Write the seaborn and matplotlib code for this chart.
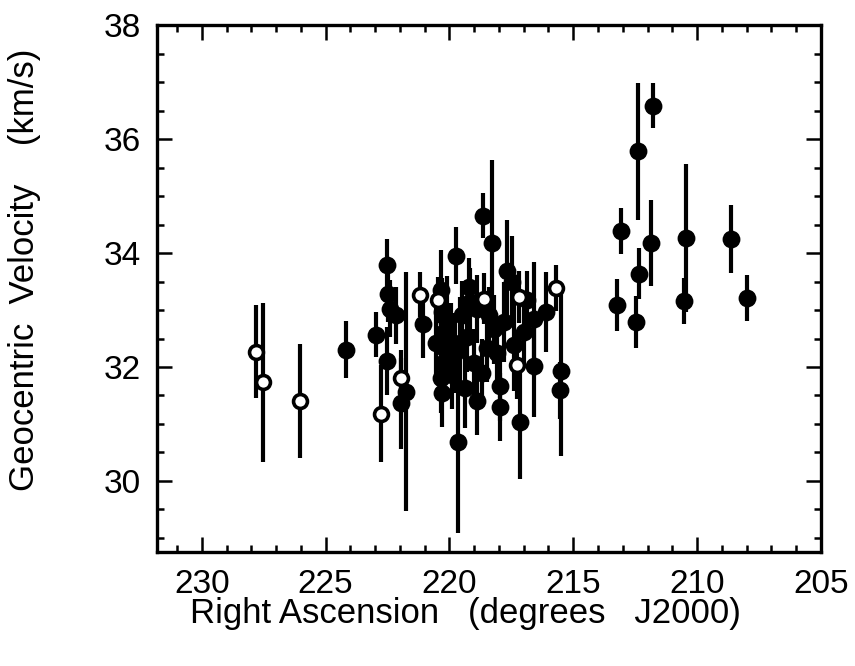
import numpy as np
import pandas as pd
import matplotlib
matplotlib.use("Agg")
import matplotlib.pyplot as plt
import seaborn as sns
from matplotlib.ticker import MultipleLocator

sns.set_theme(style="ticks")
plt.rcParams['font.family'] = ['Liberation Sans', 'DejaVu Sans']
plt.rcParams['text.color'] = 'black'
plt.rcParams['axes.labelcolor'] = 'black'
plt.rcParams['xtick.color'] = 'black'
plt.rcParams['ytick.color'] = 'black'

# filled symbols: right ascension (deg), geocentric velocity (km/s), 1-sigma error
fill_ra = [224.16, 222.96, 222.52, 222.48, 222.40, 222.16, 222.52, 221.76, 221.96, 221.08,
           220.36, 220.32, 220.24, 220.20, 220.28, 220.36, 220.32, 220.08, 219.92, 219.76,
           219.64, 219.72, 219.48, 219.56, 219.28, 219.00, 218.88, 218.88, 218.68, 218.64,
           218.28, 218.40, 218.20, 217.96, 217.96, 217.68, 217.48, 217.40, 217.16, 216.60,
           216.60, 216.08, 215.48, 215.52, 219.20, 216.88,
           219.88, 219.36, 219.16, 218.08, 217.80, 217.00, 218.48, 220.56,
           211.76, 212.40, 213.08, 211.84, 212.36, 213.24, 212.48, 210.44, 210.52, 208.64,
           208.00]
fill_v = [32.30, 32.57, 33.80, 33.29, 33.02, 32.91, 32.11, 31.57, 31.36, 32.75,
          33.36, 32.96, 32.61, 32.34, 32.07, 31.80, 31.54, 32.79, 32.43, 32.25,
          30.68, 33.95, 32.91, 32.43, 32.52, 32.07, 33.02, 31.41, 31.89, 34.66,
          34.18, 32.91, 32.66, 31.66, 31.30, 33.68, 33.50, 32.38, 31.04, 32.84,
          32.02, 32.96, 31.93, 31.59, 33.41, 33.18,
          31.86, 31.63, 33.14, 32.25, 32.79, 32.61, 32.34, 32.43,
          36.59, 35.79, 34.39, 34.18, 33.64, 33.09, 32.79, 34.27, 33.16, 34.25,
          33.21]
fill_err = [0.50, 0.40, 0.45, 0.50, 0.50, 0.50, 0.60, 2.10, 0.80, 0.60,
            0.70, 0.60, 0.60, 0.60, 0.60, 0.60, 0.60, 0.80, 0.70, 0.70,
            1.60, 0.50, 0.60, 0.80, 0.60, 0.60, 0.60, 0.60, 0.60, 0.40,
            1.45, 0.50, 0.60, 0.60, 0.60, 0.90, 0.80, 0.80, 1.00, 1.00,
            0.90, 0.70, 1.50, 0.50, 0.50, 0.50,
            0.60, 0.70, 0.60, 0.60, 0.70, 0.60, 0.60, 0.70,
            0.40, 1.20, 0.40, 0.75, 0.45, 0.45, 0.45, 1.30, 0.40, 0.60,
            0.40]

# open symbols
open_ra = [227.80, 227.52, 226.04, 222.76, 221.96, 221.20, 220.48, 218.60, 217.28, 217.20, 215.68]
open_v = [32.27, 31.73, 31.41, 31.18, 31.80, 33.27, 33.18, 33.20, 32.04, 33.23, 33.39]
open_err = [0.82, 1.40, 1.00, 0.85, 0.50, 0.40, 0.40, 0.45, 0.60, 0.45, 0.40]

filled = pd.DataFrame({'ra': fill_ra, 'v': fill_v, 'err': fill_err})
hollow = pd.DataFrame({'ra': open_ra, 'v': open_v, 'err': open_err})

fig = plt.figure(figsize=(8.55, 6.66), dpi=100)
ax = fig.add_axes([0.184, 0.171, 0.776, 0.791])

# error bars
for d in (filled, hollow):
    ax.vlines(d['ra'], d['v'] - d['err'], d['v'] + d['err'], color='black', lw=3.0, zorder=1)

sns.scatterplot(data=filled, x='ra', y='v', ax=ax, color='black', s=165,
                edgecolor='black', linewidth=0, zorder=3)
sns.scatterplot(data=hollow, x='ra', y='v', ax=ax, facecolor='white', s=100,
                edgecolor='black', linewidth=2.6, zorder=4)

ax.set_xlim(231.8, 205)
ax.set_ylim(28.75, 38)
ax.xaxis.set_major_locator(MultipleLocator(5))
ax.xaxis.set_minor_locator(MultipleLocator(1))
ax.yaxis.set_major_locator(MultipleLocator(2))
ax.yaxis.set_minor_locator(MultipleLocator(0.5))
ax.tick_params(which='both', direction='in', top=True, right=True, width=1.8, color='black')
ax.tick_params(which='major', length=11, labelsize=24, pad=12)
ax.tick_params(which='minor', length=5)
for sp in ax.spines.values():
    sp.set_linewidth(2.4)
    sp.set_color('black')

ax.set_xlabel('Right Ascension   (degrees   J2000)', fontsize=25)
ax.set_ylabel('Geocentric  Velocity    (km/s)', fontsize=25)
ax.xaxis.set_label_coords(0.465, -0.085)
ax.yaxis.set_label_coords(-0.176, 0.535)

fig.savefig('out.png', dpi=100, facecolor='white')
